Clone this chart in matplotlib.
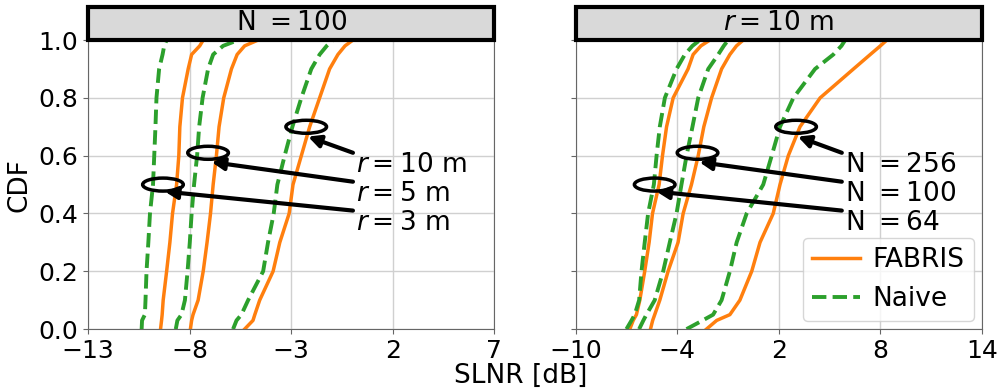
import matplotlib
matplotlib.use('Agg')
import matplotlib.pyplot as plt
from matplotlib.patches import Ellipse, Rectangle
import numpy as np

plt.rcParams['font.size'] = 18

orange = '#ff7f0e'
green = '#2ca02c'

cdf_levels = [0.0, 0.03, 0.05, 0.1, 0.2, 0.3, 0.4, 0.5, 0.6, 0.7, 0.8, 0.9, 0.95, 0.98, 1.0]

# left panel: N = 100, varying distance r
fabris_r3 = [-9.43, -9.38, -9.35, -9.3, -9.13, -8.97, -8.84, -8.64, -8.53, -8.48, -8.35, -8.07, -7.9, -7.5, -7.33]
naive_r3 = [-10.36, -10.34, -10.2, -10.17, -10.12, -10.03, -9.95, -9.8, -9.74, -9.68, -9.63, -9.5, -9.33, -9.25, -9.13]
fabris_r5 = [-7.96, -7.9, -7.83, -7.58, -7.33, -7.14, -6.97, -6.84, -6.68, -6.55, -6.32, -5.94, -5.66, -5.29, -4.63]
naive_r5 = [-8.68, -8.6, -8.4, -8.23, -8.1, -7.99, -7.9, -7.78, -7.63, -7.53, -7.36, -7.09, -6.84, -6.35, -5.61]
fabris_r10 = [-5.29, -4.88, -4.79, -4.55, -3.89, -3.56, -3.1, -2.91, -2.5, -2.09, -1.6, -1.11, -0.7, -0.35, 0.04]
naive_r10 = [-5.86, -5.69, -5.45, -5.12, -4.38, -4.14, -3.86, -3.68, -3.32, -2.94, -2.5, -2.01, -1.6, -1.25, -0.94]

# right panel: r = 10 m, varying N
fabris_n64 = [-6.8, -6.6, -6.41, -6.21, -5.92, -5.66, -5.46, -5.07, -4.87, -4.63, -4.24, -3.36, -3.06, -2.6, -2.07]
naive_n64 = [-7.0, -6.7, -6.51, -6.25, -6.11, -5.92, -5.72, -5.38, -5.22, -5.03, -4.73, -4.04, -3.55, -3.1, -2.66]
fabris_n100 = [-5.58, -5.45, -5.33, -5.03, -4.54, -3.95, -3.65, -3.16, -2.76, -2.43, -1.97, -1.38, -0.89, -0.5, -0.1]
naive_n100 = [-6.25, -6.0, -5.82, -5.33, -4.83, -4.44, -4.04, -3.75, -3.45, -3.1, -2.76, -2.17, -1.58, -1.25, -0.99]
fabris_n256 = [-2.27, -1.67, -0.89, -0.3, 0.4, 0.89, 1.67, 2.07, 2.56, 3.25, 4.44, 6.41, 7.4, 8.0, 8.38]
naive_n256 = [-3.45, -2.5, -1.88, -1.38, -0.89, -0.49, 0.1, 1.08, 1.58, 2.07, 2.86, 4.14, 5.22, 5.7, 5.92]

left_labels = ['$r=10$ m', '$r=5$ m', '$r=3$ m']
right_labels = ['N $=256$', 'N $=100$', 'N $=64$']

# ellipse centres (x, y) and arrow tips for each group
left_marks = [(-2.26, 0.70), (-7.09, 0.61), (-9.31, 0.50)]
left_tips = [(-2.17, 0.666), (-6.92, 0.578), (-9.22, 0.476)]
right_marks = [(3.02, 0.70), (-2.8, 0.61), (-5.33, 0.50)]
right_tips = [(3.12, 0.666), (-2.7, 0.578), (-5.23, 0.476)]


def style_axes(ax, xlim, xticks, title):
    ax.set_xlim(xlim)
    ax.set_ylim(0, 1.0)
    ax.set_xticks(xticks)
    ax.set_yticks([0, 0.2, 0.4, 0.6, 0.8, 1.0])
    ax.grid(True, color='#d0d0d0', lw=1)
    for s in ax.spines.values():
        s.set_color('0.4')
    ax.tick_params(colors='0.4', labelcolor='black')
    ax.add_patch(Rectangle((0, 1.0), 1, 0.115, transform=ax.transAxes,
                           facecolor='#d9d9d9', edgecolor='black', lw=3,
                           clip_on=False, zorder=5))
    ax.text(0.5, 1.0575, title, transform=ax.transAxes, ha='center',
            va='center', fontsize=19, zorder=6)


def mark_groups(ax, marks, tips, labels, ew, tail_x, text_x):
    for i in range(3):
        ax.add_patch(Ellipse(marks[i], ew, 0.045, fill=False, edgecolor='black',
                             lw=2.5, zorder=4))
        ty = 0.568 - 0.1 * i
        ax.annotate('', xy=tips[i], xytext=(tail_x, ty + 0.042),
                    arrowprops=dict(arrowstyle='-|>', color='black', lw=3,
                                    mutation_scale=18, shrinkA=0, shrinkB=0))
        ax.text(text_x, ty, labels[i], ha='left', va='center', fontsize=19)


fig, (ax1, ax2) = plt.subplots(1, 2, figsize=(10, 3.89), dpi=100, sharey=True)
fig.subplots_adjust(left=0.088, right=0.982, bottom=0.154, top=0.897, wspace=0.2)

for f, n in [(fabris_r3, naive_r3), (fabris_r5, naive_r5), (fabris_r10, naive_r10)]:
    ax1.plot(f, cdf_levels, color=orange, lw=2.5)
    ax1.plot(n, cdf_levels, color=green, lw=2.8, ls='--')

for f, n in [(fabris_n64, naive_n64), (fabris_n100, naive_n100), (fabris_n256, naive_n256)]:
    ax2.plot(f, cdf_levels, color=orange, lw=2.5)
    ax2.plot(n, cdf_levels, color=green, lw=2.8, ls='--')

ax2.plot([], [], color=orange, lw=2.5, label='FABRIS')
ax2.plot([], [], color=green, lw=2.8, ls='--', label='Naive')

style_axes(ax1, (-13, 7), [-13, -8, -3, 2, 7], 'N $=100$')
style_axes(ax2, (-10, 14), [-10, -4, 2, 8, 14], '$r=10$ m')

mark_groups(ax1, left_marks, left_tips, left_labels, 2.0, 0.04, 0.19)
mark_groups(ax2, right_marks, right_tips, right_labels, 2.4, 5.72, 5.92)

ax2.legend(loc='lower right', fontsize=19, handlelength=1.8, handletextpad=0.5,
           borderaxespad=0.3, borderpad=0.35)
ax1.set_ylabel('CDF', fontsize=19)
fig.text(0.521, 0.0, 'SLNR [dB]', ha='center', va='bottom', fontsize=19)

fig.savefig('out.png', dpi=100)
